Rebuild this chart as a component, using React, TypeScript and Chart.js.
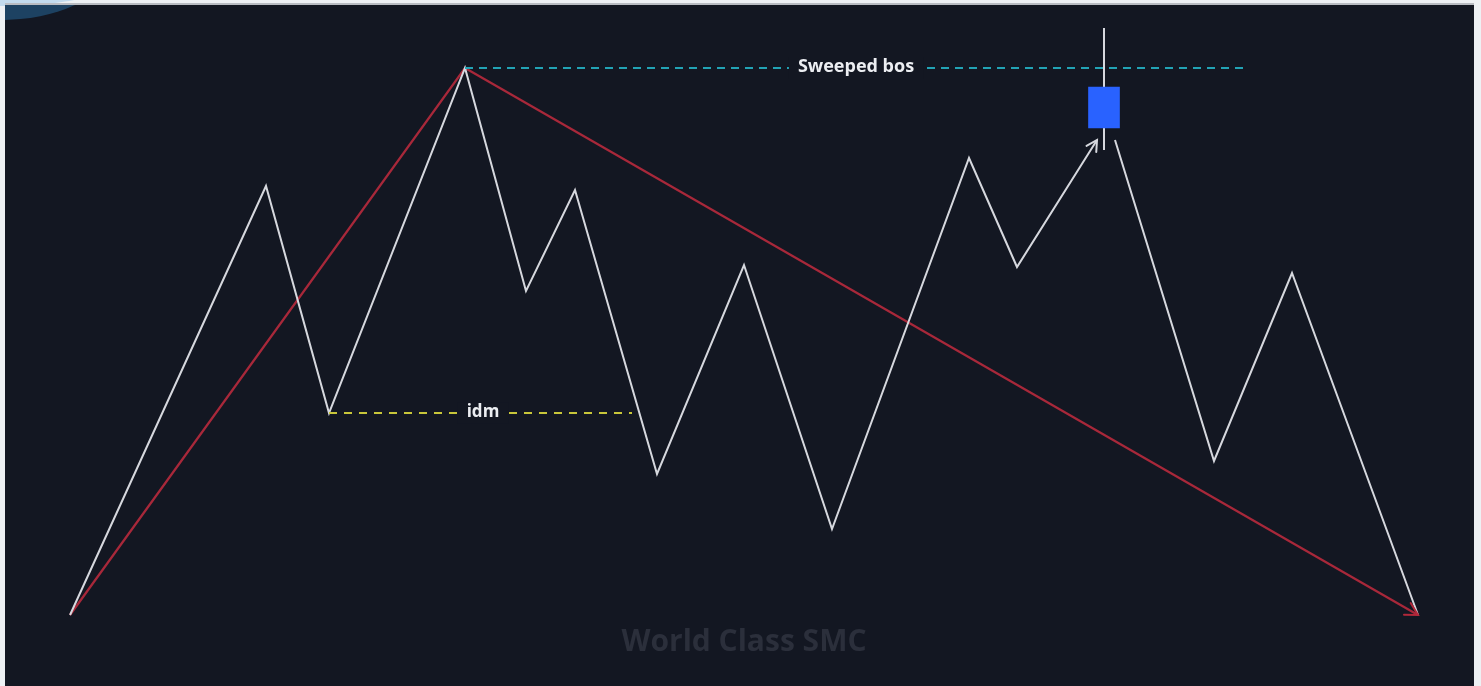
import React, { useEffect, useRef } from "react";
import { Chart, registerables } from "chart.js";

Chart.register(...registerables);

// time axis (x) and price axis (y) values
const zigTimes = [70, 266, 329, 465, 526, 575, 657, 744, 832, 969, 1017, 1097];
const zigPrices = [71, 500, 273, 618, 395, 496, 212, 421, 157, 528, 419, 546];
const legTimes = [1115, 1214, 1292, 1418];
const legPrices = [546, 225, 413, 71];
const swingTimes = [70, 465, 1418];
const swingPrices = [71, 618, 71];
const bosTimes = [465, 1245];
const bosPrice = 618;
const bosLabel = "Sweeped bos";
const bosLabelTime = 856;
const idmTimes = [329, 632];
const idmPrice = 273;
const idmLabel = "idm";
const idmLabelTime = 483;
const candleTime = 1104;
const candleOpen = 558;
const candleClose = 599;
const candleHigh = 658;
const candleLow = 536;
const watermark = "World Class SMC";
const watermarkTime = 744;
const watermarkPrice = 44;

const BG = "#131722";

function pts(xs: number[], ys: number[]) {
  return xs.map((x, i) => ({ x, y: ys[i] }));
}

const framePlugin = {
  id: "frame",
  beforeDraw(chart: any) {
    const ctx = chart.ctx as CanvasRenderingContext2D;
    const w = chart.width;
    const h = chart.height;
    ctx.save();
    ctx.fillStyle = "#eef1f4";
    ctx.fillRect(0, 0, w, h);
    ctx.fillStyle = "#c3dbee";
    ctx.beginPath();
    ctx.ellipse(0, -10, 95, 16, 0, 0, Math.PI * 2);
    ctx.fill();
    ctx.fillStyle = "#b9bcc2";
    ctx.fillRect(5, 3, 1469, 2);
    ctx.fillStyle = BG;
    ctx.fillRect(5, 5, 1469, h - 5);
    ctx.beginPath();
    ctx.rect(5, 5, 1469, h - 5);
    ctx.clip();
    ctx.fillStyle = "#1d4262";
    ctx.beginPath();
    ctx.ellipse(0, -30, 105, 50, 0, 0, Math.PI * 2);
    ctx.fill();
    ctx.restore();

    const xs = chart.scales.x;
    const ys = chart.scales.y;
    ctx.save();
    ctx.font = "bold 30px 'Open Sans'";
    ctx.fillStyle = "#2b2f3b";
    ctx.textAlign = "center";
    ctx.textBaseline = "middle";
    ctx.fillText(watermark, xs.getPixelForValue(watermarkTime), ys.getPixelForValue(watermarkPrice));
    ctx.restore();
  },
};

function arrowHead(ctx: CanvasRenderingContext2D, x0: number, y0: number, x1: number, y1: number, color: string, len: number) {
  const a = Math.atan2(y1 - y0, x1 - x0);
  ctx.save();
  ctx.strokeStyle = color;
  ctx.lineWidth = 2;
  ctx.lineCap = "round";
  ctx.beginPath();
  ctx.moveTo(x1 - len * Math.cos(a - 0.5), y1 - len * Math.sin(a - 0.5));
  ctx.lineTo(x1, y1);
  ctx.lineTo(x1 - len * Math.cos(a + 0.5), y1 - len * Math.sin(a + 0.5));
  ctx.stroke();
  ctx.restore();
}

const overlayPlugin = {
  id: "overlay",
  afterDatasetsDraw(chart: any) {
    const ctx = chart.ctx as CanvasRenderingContext2D;
    const xs = chart.scales.x;
    const ys = chart.scales.y;
    const px = (v: number) => xs.getPixelForValue(v);
    const py = (v: number) => ys.getPixelForValue(v);
    const n = zigTimes.length;
    arrowHead(ctx, px(zigTimes[n - 2]), py(zigPrices[n - 2]), px(zigTimes[n - 1]), py(zigPrices[n - 1]), "#d6d8de", 12);
    const m = swingTimes.length;
    arrowHead(ctx, px(swingTimes[m - 2]), py(swingPrices[m - 2]), px(swingTimes[m - 1]), py(swingPrices[m - 1]), "#b2283a", 14);
    const label = (text: string, t: number, p: number, size: number) => {
      ctx.save();
      ctx.font = `bold ${size}px 'Open Sans'`;
      const w = ctx.measureText(text).width;
      const x = px(t);
      const y = py(p);
      ctx.fillStyle = BG;
      ctx.fillRect(x - w / 2 - 9, y - size / 2 - 2, w + 18, size + 4);
      ctx.fillStyle = "#eceef2";
      ctx.textAlign = "center";
      ctx.textBaseline = "middle";
      ctx.fillText(text, x, y - 1);
      ctx.restore();
    };
    label(bosLabel, bosLabelTime, bosPrice, 18);
    label(idmLabel, idmLabelTime, idmPrice, 17);
  },
};

export default function App() {
  const ref = useRef<HTMLCanvasElement | null>(null);
  useEffect(() => {
    if (!ref.current) return;
    const white = "#d6d8de";
    const chart = new Chart(ref.current, {
      type: "scatter",
      data: {
        datasets: [
          {
            type: "line",
            data: pts(swingTimes, swingPrices),
            borderColor: "#a8283a",
            borderWidth: 2.2,
            pointRadius: 0,
            order: 5,
          } as any,
          {
            type: "line",
            data: pts(zigTimes, zigPrices),
            borderColor: white,
            borderWidth: 2,
            pointRadius: 0,
            order: 4,
          } as any,
          {
            type: "line",
            data: pts(legTimes, legPrices),
            borderColor: white,
            borderWidth: 2,
            pointRadius: 0,
            order: 4,
          } as any,
          {
            type: "line",
            data: pts(bosTimes, [bosPrice, bosPrice]),
            borderColor: "#22a3b5",
            borderWidth: 2,
            borderDash: [8, 6],
            pointRadius: 0,
            order: 3,
          } as any,
          {
            type: "line",
            data: pts(idmTimes, [idmPrice, idmPrice]),
            borderColor: "#c8c63a",
            borderWidth: 2,
            borderDash: [8, 7],
            pointRadius: 0,
            order: 3,
          } as any,
          {
            type: "line",
            data: pts([candleTime, candleTime], [candleHigh, candleLow]),
            borderColor: white,
            borderWidth: 2,
            pointRadius: 0,
            order: 2,
          } as any,
          {
            type: "bar",
            data: [{ x: candleTime, y: [candleOpen, candleClose] }],
            backgroundColor: "#2962ff",
            borderWidth: 0,
            barThickness: 31,
            order: 1,
          } as any,
        ],
      },
      options: {
        animation: false,
        responsive: false,
        devicePixelRatio: 1,
        layout: { padding: 0 },
        plugins: { legend: { display: false }, tooltip: { enabled: false } },
        scales: {
          x: { type: "linear", min: 0, max: 1481, display: false, offset: false },
          y: { type: "linear", min: 0, max: 686, display: false },
        },
      },
      plugins: [framePlugin, overlayPlugin],
    });
    return () => chart.destroy();
  }, []);
  return (
    <div style={{ position: "fixed", left: 0, top: 0, width: 1481, height: 686 }}>
      <canvas ref={ref} width={1481} height={686} style={{ display: "block" }} />
    </div>
  );
}
